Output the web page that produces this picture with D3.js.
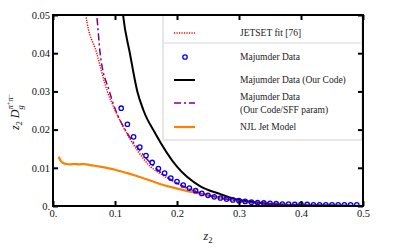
<!DOCTYPE html>
<html><head><meta charset="utf-8">
<script src="https://cdn.jsdelivr.net/npm/d3@7"></script>
<style>body{margin:0;background:#fff}svg{display:block}</style>
</head><body>
<script>
// ---- data ----
const xTicks = [0, 0.1, 0.2, 0.3, 0.4, 0.5];
const yTicks = [0, 0.01, 0.02, 0.03, 0.04, 0.05];

const majX = [0.067,0.113,0.11,0.12,0.13,0.14,0.15,0.16,0.17,0.18,0.19,0.20,0.21,0.22,0.23,0.24,0.25,0.26,0.27,0.28,0.29,0.30,0.31,0.32,0.33,0.34,0.35,0.36,0.37,0.38,0.39,0.40,0.41,0.42,0.43,0.44,0.45,0.46,0.47,0.48,0.49];
const majY = [0.0505,0.0505,0.0256,0.0214,0.0181,0.0154,0.0132,0.0114,0.0098,0.0086,0.0073,0.0064,0.0055,0.0047,0.0040,0.0033,0.0028,0.0024,0.0021,0.0018,0.0016,0.0014,0.0012,0.0010,0.0009,0.0008,0.0007,0.0006,0.0005,0.0005,0.0004,0.0004,0.0004,0.0003,0.0003,0.0003,0.0003,0.0003,0.0003,0.0003,0.0003];

const jetX = [0.050,0.053,0.0705,0.0876,0.100,0.119,0.135,0.156,0.180,0.200,0.237,0.270,0.300,0.350,0.400,0.450,0.500];
const jetY = [0.054,0.050,0.040,0.030,0.0251,0.0190,0.0148,0.0105,0.0078,0.0059,0.0035,0.0022,0.0013,0.0005,0.0002,0.0001,0.0000];

const ourX = [0.110,0.113,0.124,0.136,0.146,0.165,0.200,0.237,0.270,0.290,0.334,0.400,0.450,0.500];
const ourY = [0.055,0.050,0.040,0.030,0.025,0.019,0.0103,0.0052,0.0031,0.0020,0.0008,0.0002,0.0001,0.0000];

const sffX = [0.068,0.0705,0.076,0.091,0.100,0.120,0.140,0.160,0.180,0.200,0.250,0.300,0.350,0.400,0.500];
const sffY = [0.053,0.050,0.040,0.030,0.0255,0.0190,0.0145,0.0108,0.0080,0.0060,0.0028,0.0013,0.0005,0.0002,0.0000];

const njlX = [0.009,0.013,0.017,0.022,0.027,0.035,0.042,0.049,0.060,0.076,0.092,0.100,0.124,0.140,0.170,0.194,0.237,0.264,0.300,0.350,0.400,0.450,0.500];
const njlY = [0.0129,0.0117,0.0112,0.0110,0.0109,0.0110,0.0109,0.0110,0.0107,0.0103,0.0098,0.0095,0.0084,0.0076,0.0059,0.0048,0.0032,0.0024,0.0014,0.0006,0.0002,0.0001,0.0000];

const legendLabels = ["JETSET fit [76]", "Majumder Data", "Majumder Data (Our Code)", ["Majumder Data","(Our Code/SFF param)"], "NJL Jet Model"];

// ---- chart ----
const W = 399, H = 249;
const svg = d3.select("body").append("svg").attr("width", W).attr("height", H);
const x = d3.scaleLinear().domain([0, 0.5]).range([53, 363]);
const y = d3.scaleLinear().domain([0, 0.05]).range([206, 15]);
const font = "'Liberation Serif','Times New Roman',serif";

svg.append("clipPath").attr("id","clip").append("rect")
  .attr("x", x(0)).attr("y", y(0.05)).attr("width", x(0.5)-x(0)).attr("height", y(0)-y(0.05));

const g = svg.append("g").attr("clip-path","url(#clip)");
const line = (xs, ys) => d3.line().x((d,i)=>x(xs[i])).y((d,i)=>y(ys[i])).curve(d3.curveMonotoneX)(xs);

g.append("path").attr("d", line(njlX, njlY)).attr("fill","none").attr("stroke","#ff8000").attr("stroke-width",2.2);
g.append("path").attr("d", line(ourX, ourY)).attr("fill","none").attr("stroke","#000").attr("stroke-width",2);
g.append("path").attr("d", line(sffX, sffY)).attr("fill","none").attr("stroke","#800080").attr("stroke-width",1.5).attr("stroke-dasharray","7,3,2,3");
g.append("path").attr("d", line(jetX, jetY)).attr("fill","none").attr("stroke","#ff0000").attr("stroke-width",1.5).attr("stroke-dasharray","1.2,1.3");
g.selectAll("circle.maj").data(majX).enter().append("circle").attr("class","maj")
  .attr("cx",(d)=>x(d)).attr("cy",(d,i)=>y(majY[i])).attr("r",2.2)
  .attr("fill","none").attr("stroke","#0000ff").attr("stroke-width",1.3);

// legend
const lg = svg.append("g");
lg.append("rect").attr("x",163).attr("y",15).attr("width",199).attr("height",125)
  .attr("fill","#fff").attr("stroke","#d0d0d0").attr("stroke-width",1);
lg.append("line").attr("x1",163).attr("x2",361).attr("y1",43).attr("y2",43).attr("stroke","#d8d8d8");
const rowsY = [33, 57, 80, 103, 127];
const sym = [
  s => s.append("line").attr("stroke","#ff0000").attr("stroke-width",1.5).attr("stroke-dasharray","1.2,1.3"),
  null,
  s => s.append("line").attr("stroke","#000").attr("stroke-width",2),
  s => s.append("line").attr("stroke","#800080").attr("stroke-width",1.5).attr("stroke-dasharray","7,3,2,3"),
  s => s.append("line").attr("stroke","#ff8000").attr("stroke-width",2.2)
];
rowsY.forEach((ry, i) => {
  if (sym[i]) sym[i](lg).attr("x1",174).attr("x2",195).attr("y1",ry).attr("y2",ry);
  else lg.append("circle").attr("cx",185).attr("cy",ry).attr("r",2.2).attr("fill","none").attr("stroke","#0000ff").attr("stroke-width",1.3);
  const lab = legendLabels[i];
  if (Array.isArray(lab)) {
    lab.forEach((t, k) => lg.append("text").attr("x",240).attr("y",ry - 6 + k*13 + 3.3).text(t)
      .attr("font-family",font).attr("font-size",9.5).attr("fill","#222"));
  } else {
    lg.append("text").attr("x",240).attr("y",ry+3.3).text(lab)
      .attr("font-family",font).attr("font-size",9.5).attr("fill","#222");
  }
});

// axes
const fx = v => v === 0 ? "0." : d3.format(".1f")(v);
const fy = v => v === 0 ? "0." : d3.format(".2f")(v);
const styleAxis = (sel) => {
  sel.select(".domain").remove();
  sel.selectAll(".tick line").attr("stroke","#000").attr("stroke-width",2);
  sel.selectAll(".tick text").attr("font-family",font).attr("font-size",10.5).attr("fill","#111");
};
svg.append("g").attr("transform",`translate(0,${y(0)})`)
  .call(d3.axisBottom(x).tickValues(xTicks).tickSize(-5).tickPadding(4).tickFormat(fx)).call(styleAxis);
svg.append("g").attr("transform",`translate(0,${y(0.05)})`)
  .call(d3.axisTop(x).tickValues(xTicks).tickSize(-5).tickFormat("")).call(styleAxis);
svg.append("g").attr("transform",`translate(${x(0)},0)`)
  .call(d3.axisLeft(y).tickValues(yTicks).tickSize(-5).tickPadding(3).tickFormat(fy)).call(styleAxis);
svg.append("g").attr("transform",`translate(${x(0.5)},0)`)
  .call(d3.axisRight(y).tickValues(yTicks).tickSize(-5).tickFormat("")).call(styleAxis);

// frame
svg.append("rect").attr("x",x(0)).attr("y",y(0.05)).attr("width",x(0.5)-x(0)).attr("height",y(0)-y(0.05))
  .attr("fill","none").attr("stroke","#000").attr("stroke-width",2);

// axis titles
const xt = svg.append("text").attr("x",208).attr("y",240).attr("text-anchor","middle")
  .attr("font-family",font).attr("font-size",12).attr("fill","#111");
xt.append("tspan").attr("font-style","italic").text("z");
xt.append("tspan").attr("font-size",8.5).attr("dy",3).text("2");

const yt = svg.append("text").attr("transform","translate(19,112) rotate(-90)").attr("text-anchor","middle")
  .attr("font-family",font).attr("font-size",12).attr("fill","#111");
yt.append("tspan").attr("font-style","italic").text("z");
yt.append("tspan").attr("font-size",8.5).attr("dy",3).text("2");
yt.append("tspan").attr("dy",-3).text(" ");
yt.append("tspan").attr("font-style","italic").text("D");
yt.append("tspan").attr("font-style","italic").attr("font-size",8.5).attr("dy",3.5).text("g");
yt.append("tspan").attr("font-style","italic").attr("font-size",8.5).attr("dx",-4).attr("dy",-10).text("π");
yt.append("tspan").attr("font-size",6).attr("dy",-2).text("+");
yt.append("tspan").attr("font-style","italic").attr("font-size",8.5).attr("dy",2).text("π");
yt.append("tspan").attr("font-size",6).attr("dy",-2).text("−");
</script>
</body></html>
